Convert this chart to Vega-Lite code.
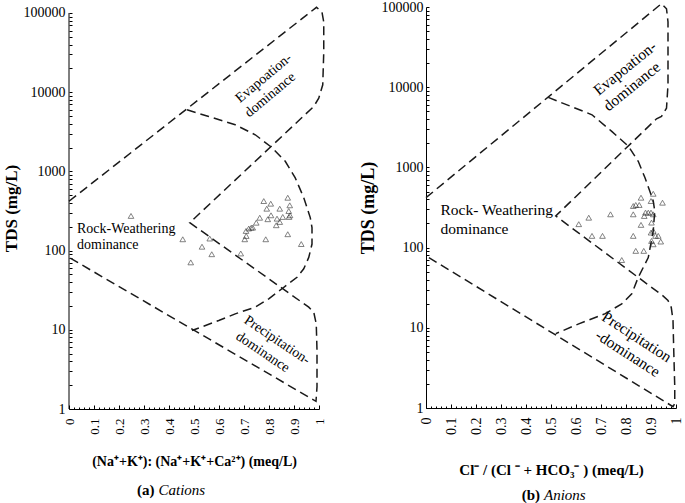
{
  "$schema": "https://vega.github.io/schema/vega-lite/v6.json",
  "padding": {"left": 2, "top": 0, "right": 0, "bottom": 0},
  "background": "white",
  "config": {
    "font": "Liberation Serif, Times New Roman, serif",
    "text": {"font": "Liberation Serif, Times New Roman, serif"},
    "view": {"stroke": null},
    "axis": {"grid": false, "domainColor": "#000", "tickColor": "#000", "labelColor": "#000", "titleColor": "#000", "labelFont": "Liberation Serif, Times New Roman, serif", "titleFont": "Liberation Serif, Times New Roman, serif"}
  },
  "datasets": {
    "cat_lines": [
      {"seg": "A", "i": 0, "x": 0, "tds": 420},
      {"seg": "A", "i": 1, "x": 0.99, "tds": 118000},
      {"seg": "A", "i": 2, "x": 1.012, "tds": 102000},
      {"seg": "A", "i": 3, "x": 1.019, "tds": 77000},
      {"seg": "A", "i": 4, "x": 1.019, "tds": 32000},
      {"seg": "A", "i": 5, "x": 1.015, "tds": 12400},
      {"seg": "A", "i": 6, "x": 0.999, "tds": 8400},
      {"seg": "A", "i": 7, "x": 0.979, "tds": 6600},
      {"seg": "A", "i": 8, "x": 0.483, "tds": 225},
      {"seg": "A", "i": 9, "x": 0.959, "tds": 19.3},
      {"seg": "A", "i": 10, "x": 0.979, "tds": 16.7},
      {"seg": "A", "i": 11, "x": 0.989, "tds": 11.9},
      {"seg": "A", "i": 12, "x": 0.992, "tds": 5.5},
      {"seg": "A", "i": 13, "x": 0.992, "tds": 1.9},
      {"seg": "A", "i": 14, "x": 0.988, "tds": 1.25},
      {"seg": "A", "i": 15, "x": 0, "tds": 82},
      {"seg": "B", "i": 0, "x": 0.472, "tds": 5990},
      {"seg": "B", "i": 1, "x": 0.559, "tds": 4930},
      {"seg": "B", "i": 2, "x": 0.665, "tds": 3880},
      {"seg": "B", "i": 3, "x": 0.745, "tds": 2900},
      {"seg": "B", "i": 4, "x": 0.809, "tds": 2030},
      {"seg": "B", "i": 5, "x": 0.865, "tds": 1340},
      {"seg": "B", "i": 6, "x": 0.905, "tds": 828},
      {"seg": "B", "i": 7, "x": 0.939, "tds": 465},
      {"seg": "B", "i": 8, "x": 0.965, "tds": 261},
      {"seg": "B", "i": 9, "x": 0.972, "tds": 195},
      {"seg": "B", "i": 10, "x": 0.972, "tds": 121},
      {"seg": "B", "i": 11, "x": 0.959, "tds": 82},
      {"seg": "B", "i": 12, "x": 0.939, "tds": 59},
      {"seg": "B", "i": 13, "x": 0.912, "tds": 46},
      {"seg": "B", "i": 14, "x": 0.852, "tds": 33},
      {"seg": "B", "i": 15, "x": 0.799, "tds": 24.6},
      {"seg": "B", "i": 16, "x": 0.745, "tds": 19.3},
      {"seg": "B", "i": 17, "x": 0.665, "tds": 15.9},
      {"seg": "B", "i": 18, "x": 0.599, "tds": 13.1},
      {"seg": "B", "i": 19, "x": 0.492, "tds": 9.8}
    ],
    "cat_pts": [
      {"x": 0.248, "tds": 274}, {"x": 0.455, "tds": 139}, {"x": 0.563, "tds": 142}, {"x": 0.532, "tds": 112},
      {"x": 0.571, "tds": 90}, {"x": 0.487, "tds": 71}, {"x": 0.687, "tds": 92}, {"x": 0.703, "tds": 139},
      {"x": 0.709, "tds": 153}, {"x": 0.708, "tds": 177}, {"x": 0.719, "tds": 190}, {"x": 0.729, "tds": 195},
      {"x": 0.735, "tds": 195}, {"x": 0.749, "tds": 225}, {"x": 0.763, "tds": 260}, {"x": 0.779, "tds": 422},
      {"x": 0.791, "tds": 338}, {"x": 0.807, "tds": 391}, {"x": 0.808, "tds": 279}, {"x": 0.795, "tds": 249},
      {"x": 0.787, "tds": 139}, {"x": 0.829, "tds": 209}, {"x": 0.832, "tds": 253}, {"x": 0.843, "tds": 338},
      {"x": 0.843, "tds": 230}, {"x": 0.855, "tds": 266}, {"x": 0.875, "tds": 465}, {"x": 0.883, "tds": 373},
      {"x": 0.879, "tds": 316}, {"x": 0.884, "tds": 279}, {"x": 0.88, "tds": 266}, {"x": 0.875, "tds": 161},
      {"x": 0.929, "tds": 121}
    ],
    "cat_labels": [
      {"grp": "evap", "label": "Evapoation-", "x": 0.779, "tds": 15000},
      {"grp": "evap", "label": "dominance", "x": 0.805, "tds": 9250},
      {"grp": "rock", "label": "Rock-Weathering", "x": 0.032, "tds": 188},
      {"grp": "rock", "label": "dominance", "x": 0.032, "tds": 118},
      {"grp": "prec", "label": "Precipitation-", "x": 0.832, "tds": 7.4},
      {"grp": "prec", "label": "dominance", "x": 0.775, "tds": 5.2},
      {"grp": "capb", "label": "(a)", "x": 0.35, "tds": 0.096},
      {"grp": "capi", "label": "Cations", "x": 0.35, "tds": 0.096}
    ],
    "an_lines": [
      {"seg": "A", "i": 0, "x": 0, "tds": 419},
      {"seg": "A", "i": 1, "x": 0.942, "tds": 110000},
      {"seg": "A", "i": 2, "x": 0.962, "tds": 95000},
      {"seg": "A", "i": 3, "x": 0.968, "tds": 65000},
      {"seg": "A", "i": 4, "x": 0.968, "tds": 27700},
      {"seg": "A", "i": 5, "x": 0.968, "tds": 10700},
      {"seg": "A", "i": 6, "x": 0.962, "tds": 5470},
      {"seg": "A", "i": 7, "x": 0.942, "tds": 4320},
      {"seg": "A", "i": 8, "x": 0.922, "tds": 4040},
      {"seg": "A", "i": 9, "x": 0.519, "tds": 248},
      {"seg": "A", "i": 10, "x": 0.948, "tds": 25},
      {"seg": "A", "i": 11, "x": 0.968, "tds": 21.9},
      {"seg": "A", "i": 12, "x": 0.981, "tds": 18},
      {"seg": "A", "i": 13, "x": 0.988, "tds": 12.4},
      {"seg": "A", "i": 14, "x": 0.991, "tds": 5.2},
      {"seg": "A", "i": 15, "x": 0.995, "tds": 1.84},
      {"seg": "A", "i": 16, "x": 0.995, "tds": 1.14},
      {"seg": "A", "i": 17, "x": 0.988, "tds": 1.04},
      {"seg": "A", "i": 18, "x": 0, "tds": 79},
      {"seg": "B", "i": 0, "x": 0.489, "tds": 7460},
      {"seg": "B", "i": 1, "x": 0.664, "tds": 4530},
      {"seg": "B", "i": 2, "x": 0.743, "tds": 2810},
      {"seg": "B", "i": 3, "x": 0.81, "tds": 1830},
      {"seg": "B", "i": 4, "x": 0.849, "tds": 1190},
      {"seg": "B", "i": 5, "x": 0.876, "tds": 741},
      {"seg": "B", "i": 6, "x": 0.895, "tds": 507},
      {"seg": "B", "i": 7, "x": 0.909, "tds": 381},
      {"seg": "B", "i": 8, "x": 0.915, "tds": 286},
      {"seg": "B", "i": 9, "x": 0.909, "tds": 162},
      {"seg": "B", "i": 10, "x": 0.889, "tds": 75},
      {"seg": "B", "i": 11, "x": 0.849, "tds": 42.6},
      {"seg": "B", "i": 12, "x": 0.823, "tds": 26.5},
      {"seg": "B", "i": 13, "x": 0.783, "tds": 19.9},
      {"seg": "B", "i": 14, "x": 0.717, "tds": 15},
      {"seg": "B", "i": 15, "x": 0.611, "tds": 11.2},
      {"seg": "B", "i": 16, "x": 0.519, "tds": 8.45}
    ],
    "an_pts": [
      {"x": 0.611, "tds": 196}, {"x": 0.651, "tds": 236}, {"x": 0.664, "tds": 140}, {"x": 0.706, "tds": 140},
      {"x": 0.738, "tds": 260}, {"x": 0.783, "tds": 70}, {"x": 0.829, "tds": 330}, {"x": 0.839, "tds": 340},
      {"x": 0.853, "tds": 340}, {"x": 0.86, "tds": 419}, {"x": 0.909, "tds": 469}, {"x": 0.946, "tds": 363},
      {"x": 0.9, "tds": 381}, {"x": 0.829, "tds": 260}, {"x": 0.878, "tds": 273}, {"x": 0.889, "tds": 273},
      {"x": 0.9, "tds": 273}, {"x": 0.909, "tds": 260}, {"x": 0.873, "tds": 248}, {"x": 0.86, "tds": 192},
      {"x": 0.902, "tds": 205}, {"x": 0.829, "tds": 140}, {"x": 0.9, "tds": 154}, {"x": 0.909, "tds": 162},
      {"x": 0.918, "tds": 140}, {"x": 0.929, "tds": 140}, {"x": 0.939, "tds": 119}, {"x": 0.909, "tds": 110},
      {"x": 0.839, "tds": 91}, {"x": 0.871, "tds": 91}, {"x": 0.902, "tds": 121}
    ],
    "an_labels": [
      {"grp": "evap", "label": "Evapoation-", "x": 0.796, "tds": 17200},
      {"grp": "evap", "label": "dominance", "x": 0.823, "tds": 10200},
      {"grp": "rock", "label": "Rock- Weathering", "x": 0.058, "tds": 292},
      {"grp": "rock", "label": "dominance", "x": 0.058, "tds": 170},
      {"grp": "prec", "label": "Precipitation", "x": 0.843, "tds": 7.7},
      {"grp": "prec", "label": "-dominance", "x": 0.807, "tds": 4.8},
      {"grp": "capb", "label": "(b)", "x": 0.464, "tds": 0.083},
      {"grp": "capi", "label": "Anions", "x": 0.464, "tds": 0.083}
    ]
  },
  "hconcat": [
    {
      "width": 250,
      "height": 402,
      "resolve": {"axis": {"x": "independent"}},
      "layer": [
        {
          "data": {"name": "cat_lines"},
          "mark": {"type": "line", "strokeDash": [9, 5], "strokeWidth": 1.5, "color": "#1a1a1a"},
          "encoding": {
            "x": {"field": "x", "type": "quantitative", "scale": {"domain": [0, 1], "nice": false, "zero": false},
              "axis": {"title": "(Na⁺+K⁺): (Na⁺+K⁺+Ca²⁺) (meq/L)", "titleFontSize": 14, "titleFontWeight": "bold", "titlePadding": 20,
                "values": [0,0.1,0.2,0.3,0.4,0.5,0.6,0.7,0.8,0.9,1],
                "format": "~g", "labelAngle": -90, "labelFontSize": 13, "labelPadding": 13, "tickSize": -4, "labelOverlap": false, "labelFlush": false}},
            "y": {"field": "tds", "type": "quantitative", "scale": {"type": "log", "domain": [1, 119000], "nice": false},
              "axis": {"title": "TDS (mg/L)", "titleFontSize": 17, "titleFontWeight": "bold", "titlePadding": 3,
                "values": [1,2,3,4,5,6,7,8,9,10,20,30,40,50,60,70,80,90,100,200,300,400,500,600,700,800,900,1000,2000,3000,4000,5000,6000,7000,8000,9000,10000,20000,30000,40000,50000,60000,70000,80000,90000,100000],
                "format": "d", "labelExpr": "indexof(['1','10','100','1000','10000','100000'], datum.label) >= 0 ? datum.label : ''",
                "labelFontSize": 14, "labelPadding": 7, "tickSize": -3, "domain": false, "labelOverlap": false, "labelFlush": false}},
            "detail": {"field": "seg"},
            "order": {"field": "i", "type": "quantitative"}
          }
        },
        {
          "data": {"values": [{"x": 0, "tds": 1, "tds2": 100000}]},
          "mark": {"type": "rule", "color": "#000", "strokeWidth": 1},
          "encoding": {
            "x": {"field": "x", "type": "quantitative",
              "axis": {"orient": "top", "offset": -402, "title": null, "labels": false, "domain": false, "tickSize": 2,
                "values": [0.02,0.04,0.06,0.08,0.12,0.14,0.16,0.18,0.22,0.24,0.26,0.28,0.32,0.34,0.36,0.38,0.42,0.44,0.46,0.48,0.52,0.54,0.56,0.58,0.62,0.64,0.66,0.68,0.72,0.74,0.76,0.78,0.82,0.84,0.86,0.88,0.92,0.94,0.96,0.98]}},
            "y": {"field": "tds", "type": "quantitative"},
            "y2": {"field": "tds2"}
          }
        },
        {
          "data": {"name": "cat_pts"},
          "mark": {"type": "point", "shape": "triangle-up", "filled": false, "size": 32, "strokeWidth": 0.8, "color": "#222"},
          "encoding": {
            "x": {"field": "x", "type": "quantitative", "axis": null},
            "y": {"field": "tds", "type": "quantitative"}
          }
        },
        {
          "data": {"name": "cat_labels"},
          "transform": [{"filter": "datum.grp == 'rock'"}],
          "mark": {"type": "text", "align": "left", "baseline": "middle", "fontSize": 14, "color": "#000"},
          "encoding": {"x": {"field": "x", "type": "quantitative", "axis": null}, "y": {"field": "tds", "type": "quantitative"}, "text": {"field": "label"}}
        },
        {
          "data": {"name": "cat_labels"},
          "transform": [{"filter": "datum.grp == 'evap'"}],
          "mark": {"type": "text", "align": "center", "baseline": "middle", "fontSize": 14, "angle": 320, "color": "#000"},
          "encoding": {"x": {"field": "x", "type": "quantitative", "axis": null}, "y": {"field": "tds", "type": "quantitative"}, "text": {"field": "label"}}
        },
        {
          "data": {"name": "cat_labels"},
          "transform": [{"filter": "datum.grp == 'prec'"}],
          "mark": {"type": "text", "align": "center", "baseline": "middle", "fontSize": 14, "angle": 34, "color": "#000"},
          "encoding": {"x": {"field": "x", "type": "quantitative", "axis": null}, "y": {"field": "tds", "type": "quantitative"}, "text": {"field": "label"}}
        },
        {
          "data": {"name": "cat_labels"},
          "transform": [{"filter": "datum.grp == 'capb'"}],
          "mark": {"type": "text", "align": "right", "baseline": "middle", "fontSize": 15, "fontWeight": "bold", "dx": -2, "color": "#000"},
          "encoding": {"x": {"field": "x", "type": "quantitative", "axis": null}, "y": {"field": "tds", "type": "quantitative"}, "text": {"field": "label"}}
        },
        {
          "data": {"name": "cat_labels"},
          "transform": [{"filter": "datum.grp == 'capi'"}],
          "mark": {"type": "text", "align": "left", "baseline": "middle", "fontSize": 15, "fontStyle": "italic", "dx": 2, "color": "#000"},
          "encoding": {"x": {"field": "x", "type": "quantitative", "axis": null}, "y": {"field": "tds", "type": "quantitative"}, "text": {"field": "label"}}
        }
      ]
    },
    {
      "width": 250,
      "height": 401,
      "resolve": {"axis": {"x": "independent"}},
      "layer": [
        {
          "data": {"name": "an_lines"},
          "mark": {"type": "line", "strokeDash": [9, 5], "strokeWidth": 1.5, "color": "#1a1a1a"},
          "encoding": {
            "x": {"field": "x", "type": "quantitative", "scale": {"domain": [0, 1], "nice": false, "zero": false},
              "axis": {"title": "Cl⁻ / (Cl ⁻ + HCO₃⁻ ) (meq/L)", "titleFontSize": 15, "titleFontWeight": "bold", "titlePadding": 28,
                "values": [0,0.1,0.2,0.3,0.4,0.5,0.6,0.7,0.8,0.9,1],
                "format": "~g", "labelAngle": -90, "labelFontSize": 14, "labelPadding": 13, "tickSize": -4, "labelOverlap": false, "labelFlush": false}},
            "y": {"field": "tds", "type": "quantitative", "scale": {"type": "log", "domain": [1, 100000], "nice": false},
              "axis": {"title": "TDS (mg/L)", "titleFontSize": 18, "titleFontWeight": "bold", "titlePadding": 4,
                "values": [1,2,3,4,5,6,7,8,9,10,20,30,40,50,60,70,80,90,100,200,300,400,500,600,700,800,900,1000,2000,3000,4000,5000,6000,7000,8000,9000,10000,20000,30000,40000,50000,60000,70000,80000,90000,100000],
                "format": "d", "labelExpr": "indexof(['1','10','100','1000','10000','100000'], datum.label) >= 0 ? datum.label : ''",
                "labelFontSize": 14, "labelPadding": 6, "tickSize": -3, "labelOverlap": false, "labelFlush": false}},
            "detail": {"field": "seg"},
            "order": {"field": "i", "type": "quantitative"}
          }
        },
        {
          "data": {"name": "an_pts"},
          "mark": {"type": "point", "shape": "triangle-up", "filled": false, "size": 32, "strokeWidth": 0.8, "color": "#222"},
          "encoding": {
            "x": {"field": "x", "type": "quantitative",
              "axis": {"orient": "top", "offset": -401, "title": null, "labels": false, "domain": false, "tickSize": 2,
                "values": [0.02,0.04,0.06,0.08,0.12,0.14,0.16,0.18,0.22,0.24,0.26,0.28,0.32,0.34,0.36,0.38,0.42,0.44,0.46,0.48,0.52,0.54,0.56,0.58,0.62,0.64,0.66,0.68,0.72,0.74,0.76,0.78,0.82,0.84,0.86,0.88,0.92,0.94,0.96,0.98]}},
            "y": {"field": "tds", "type": "quantitative"}
          }
        },
        {
          "data": {"name": "an_labels"},
          "transform": [{"filter": "datum.grp == 'rock'"}],
          "mark": {"type": "text", "align": "left", "baseline": "middle", "fontSize": 15.5, "color": "#000"},
          "encoding": {"x": {"field": "x", "type": "quantitative", "axis": null}, "y": {"field": "tds", "type": "quantitative"}, "text": {"field": "label"}}
        },
        {
          "data": {"name": "an_labels"},
          "transform": [{"filter": "datum.grp == 'evap'"}],
          "mark": {"type": "text", "align": "center", "baseline": "middle", "fontSize": 15.5, "angle": 321, "color": "#000"},
          "encoding": {"x": {"field": "x", "type": "quantitative", "axis": null}, "y": {"field": "tds", "type": "quantitative"}, "text": {"field": "label"}}
        },
        {
          "data": {"name": "an_labels"},
          "transform": [{"filter": "datum.grp == 'prec'"}],
          "mark": {"type": "text", "align": "center", "baseline": "middle", "fontSize": 15.5, "angle": 33, "color": "#000"},
          "encoding": {"x": {"field": "x", "type": "quantitative", "axis": null}, "y": {"field": "tds", "type": "quantitative"}, "text": {"field": "label"}}
        },
        {
          "data": {"name": "an_labels"},
          "transform": [{"filter": "datum.grp == 'capb'"}],
          "mark": {"type": "text", "align": "right", "baseline": "middle", "fontSize": 15, "fontWeight": "bold", "dx": -2, "color": "#000"},
          "encoding": {"x": {"field": "x", "type": "quantitative", "axis": null}, "y": {"field": "tds", "type": "quantitative"}, "text": {"field": "label"}}
        },
        {
          "data": {"name": "an_labels"},
          "transform": [{"filter": "datum.grp == 'capi'"}],
          "mark": {"type": "text", "align": "left", "baseline": "middle", "fontSize": 15, "fontStyle": "italic", "dx": 2, "color": "#000"},
          "encoding": {"x": {"field": "x", "type": "quantitative", "axis": null}, "y": {"field": "tds", "type": "quantitative"}, "text": {"field": "label"}}
        }
      ]
    }
  ],
  "bounds": "flush",
  "spacing": 107
}
